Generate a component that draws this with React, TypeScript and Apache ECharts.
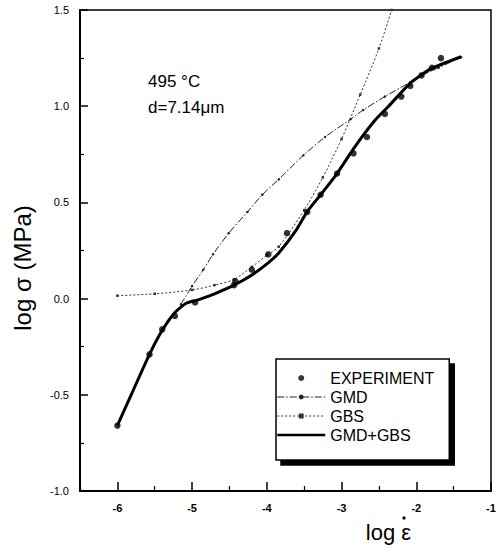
import React, { useEffect, useRef } from "react";
import * as echarts from "echarts";

// Experimental data (log strain rate, log stress)
const expX = [-6.0, -5.57, -5.4, -5.23, -4.96, -4.44, -4.42, -4.2, -3.98, -3.73, -3.46, -3.28, -3.06, -2.84, -2.66, -2.42, -2.2, -2.08, -1.93, -1.79, -1.67];
const expY = [-0.66, -0.29, -0.16, -0.09, -0.02, 0.07, 0.09, 0.15, 0.23, 0.34, 0.45, 0.54, 0.65, 0.755, 0.84, 0.96, 1.05, 1.105, 1.16, 1.2, 1.25];

// GMD model curve
const gmdX = [-5.15, -5.0, -4.85, -4.72, -4.51, -4.26, -4.06, -3.84, -3.51, -3.22, -2.88, -2.71, -2.42, -2.08, -1.93, -1.7, -1.4];
const gmdY = [-0.03, 0.065, 0.15, 0.23, 0.34, 0.45, 0.54, 0.62, 0.745, 0.84, 0.932, 0.98, 1.05, 1.125, 1.16, 1.2, 1.255];

// GBS model curve
const gbsX = [-6.0, -5.5, -5.0, -4.7, -4.44, -4.2, -4.0, -3.84, -3.5, -3.25, -3.0, -2.75, -2.5, -2.33];
const gbsY = [0.015, 0.025, 0.045, 0.07, 0.1, 0.165, 0.225, 0.27, 0.46, 0.63, 0.83, 1.06, 1.3, 1.5];

// GMD+GBS combined curve
const sumX = [-6.0, -5.8, -5.57, -5.4, -5.23, -5.08, -4.91, -4.7, -4.44, -4.2, -3.97, -3.84, -3.6, -3.46, -3.28, -3.06, -2.82, -2.55, -2.37, -2.08, -1.8, -1.4];
const sumY = [-0.66, -0.487, -0.29, -0.165, -0.072, -0.024, -0.005, 0.025, 0.07, 0.123, 0.19, 0.237, 0.36, 0.452, 0.54, 0.65, 0.79, 0.928, 1.0, 1.12, 1.195, 1.257];

const xMajorTicks = [-6, -5, -4, -3, -2, -1];
const xMinorTicks = [-6.5, -5.5, -4.5, -3.5, -2.5, -1.5];

const pairs = (xs: number[], ys: number[]) => xs.map((x, i) => [x, ys[i]]);

const FONT = "Liberation Sans, Arial, sans-serif";

export default function App() {
  const ref = useRef<HTMLDivElement>(null);
  useEffect(() => {
    if (!ref.current) return;
    const chart = echarts.init(ref.current, null, { renderer: "svg" });
    chart.setOption({
      animation: false,
      backgroundColor: "#fff",
      grid: {
        left: 80,
        top: 10,
        right: 8,
        bottom: 61,
        show: true,
        borderColor: "#000",
        borderWidth: 1.5,
        backgroundColor: "transparent",
      },
      xAxis: [
        {
          type: "value",
          min: -6.5,
          max: -1,
          position: "bottom",
          name: "log ε",
          nameLocation: "middle",
          nameGap: 30,
          nameTextStyle: { fontSize: 22, color: "#000", fontFamily: FONT, padding: [0, 0, 0, 206] },
          axisLine: { show: true, onZero: false, lineStyle: { color: "#000", width: 2 } },
          axisTick: { show: true, inside: true, length: 9, customValues: xMajorTicks, lineStyle: { color: "#000", width: 1.5 } },
          axisLabel: {
            customValues: xMajorTicks,
            fontSize: 11,
            fontWeight: "bold",
            color: "#000",
            fontFamily: FONT,
            margin: 11,
            formatter: (v: number) => String(v),
          },
          splitLine: { show: false },
        },
        {
          type: "value",
          min: -6.5,
          max: -1,
          position: "bottom",
          axisLine: { show: false, onZero: false },
          axisTick: { show: true, inside: true, length: 5, customValues: xMinorTicks, lineStyle: { color: "#000", width: 1.2 } },
          axisLabel: { show: false },
          splitLine: { show: false },
        },
      ],
      yAxis: {
        type: "value",
        min: -1,
        max: 1.5,
        interval: 0.5,
        name: "log σ (MPa)",
        nameLocation: "middle",
        nameGap: 46,
        nameTextStyle: { fontSize: 24, color: "#000", fontFamily: FONT, padding: [0, 35, 0, 0] },
        axisLine: { show: true, onZero: false, lineStyle: { color: "#000", width: 2 } },
        axisTick: { show: true, inside: true, length: 8, lineStyle: { color: "#000", width: 1.5 } },
        minorTick: { show: true, splitNumber: 2, length: 4, lineStyle: { color: "#000", width: 1.2 } },
        axisLabel: {
          fontSize: 11,
          color: "#000",
          fontFamily: FONT,
          margin: 11,
          formatter: (v: number) => v.toFixed(1),
        },
        splitLine: { show: false },
      },
      legend: {
        orient: "vertical",
        left: 276,
        top: 359,
        itemWidth: 48,
        itemHeight: 6,
        itemGap: 3,
        padding: [11, 15, 17, 0],
        backgroundColor: "#fff",
        borderColor: "#000",
        borderWidth: 1.5,
        shadowColor: "#000",
        shadowBlur: 0,
        shadowOffsetX: 5,
        shadowOffsetY: 5,
        textStyle: { fontSize: 16, color: "#000", fontFamily: FONT },
        data: [
          { name: "EXPERIMENT", icon: "circle" },
          { name: "GMD", lineStyle: { width: 1 } },
          { name: "GBS", lineStyle: { width: 1 } },
          { name: "GMD+GBS", itemStyle: { opacity: 0 }, lineStyle: { width: 2.5 } },
        ],
      },
      graphic: [
        {
          type: "text",
          left: 148,
          top: 73,
          style: { text: "495 °C", fontSize: 17, fill: "#000", fontFamily: FONT },
        },
        {
          type: "text",
          left: 148,
          top: 99,
          style: { text: "d=7.14μm", fontSize: 17, fill: "#000", fontFamily: FONT },
        },
        {
          type: "circle",
          shape: { cx: 404, cy: 518, r: 1.6 },
          style: { fill: "#000" },
        },
      ],
      series: [
        {
          name: "GMD",
          type: "line",
          data: pairs(gmdX, gmdY),
          smooth: 0.3,
          symbol: "circle",
          symbolSize: 2.5,
          showSymbol: true,
          itemStyle: { color: "#222" },
          lineStyle: { color: "#222", width: 1, type: [7, 2, 1.5, 2] },
          z: 2,
        },
        {
          name: "GBS",
          type: "line",
          data: pairs(gbsX, gbsY),
          smooth: 0.3,
          symbol: "rect",
          symbolSize: 2.5,
          showSymbol: true,
          itemStyle: { color: "#333" },
          lineStyle: { color: "#333", width: 1, type: [2, 2] },
          z: 2,
        },
        {
          name: "GMD+GBS",
          type: "line",
          data: pairs(sumX, sumY),
          smooth: 0.2,
          showSymbol: false,
          symbol: "none",
          itemStyle: { color: "#000" },
          lineStyle: { color: "#000", width: 3 },
          z: 3,
        },
        {
          name: "EXPERIMENT",
          type: "scatter",
          data: pairs(expX, expY),
          symbol: "circle",
          symbolSize: 6.5,
          itemStyle: { color: "#000" },
          z: 4,
        },
      ],
    });
    return () => chart.dispose();
  }, []);
  return <div ref={ref} style={{ width: 499, height: 552, position: "absolute", left: 0, top: 0 }} />;
}
